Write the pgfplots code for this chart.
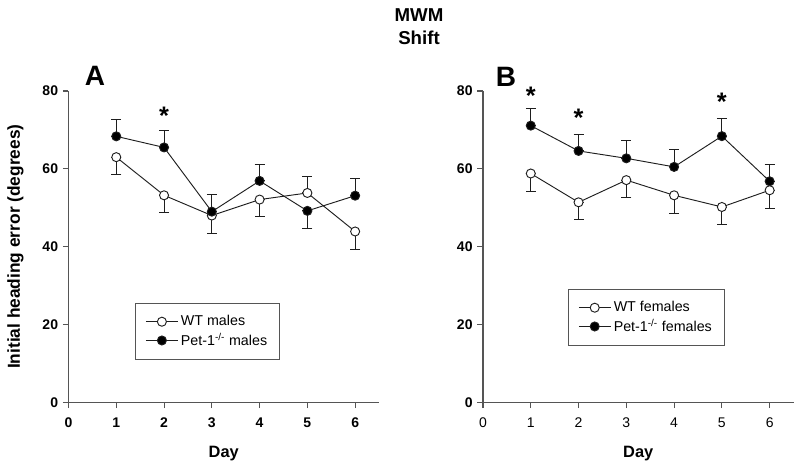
\documentclass[border=0pt]{standalone}
\usepackage{pgfplots}
\pgfplotsset{compat=1.18}
\usepackage{fontspec}
\setmainfont{Liberation Sans}
\definecolor{axgray}{RGB}{85,85,85}
\definecolor{dat}{RGB}{30,30,30}
\pgfplotsset{
  panel/.style={
    scale only axis,
    width=232.9pt, height=233.5pt,
    xmin=0, xmax=6.5, ymin=0, ymax=80,
    xtick={0,1,2,3,4,5,6}, ytick={0,20,40,60,80},
    axis x line=bottom, axis y line=left,
    axis line style={-, axgray, line width=0.8pt},
    tick align=outside, major tick length=4.3pt,
    tick style={axgray, line width=0.8pt},
    /pgf/number format/assume math mode=true,
    yticklabel style={font=\fontsize{10.5}{12}\bfseries\selectfont},
    xlabel={Day},
    xlabel style={font=\fontsize{12.3}{14}\bfseries\selectfont, at={(axis description cs:0.5,-0.166)}, anchor=center},
    clip=false,
    legend cell align=left,
    legend style={draw=axgray, line width=0.8pt, inner xsep=7.5pt, inner ysep=7pt, row sep=0pt,
      font=\fontsize{10.7}{12.5}\selectfont, anchor=north west},
    legend image code/.code={\draw[mark repeat=2,mark phase=2,#1] plot coordinates {(0cm,0cm) (0.42cm,0cm) (0.84cm,0cm)};},
    error bars/y dir=both, error bars/y explicit,
    error bars/error bar style={line width=0.7pt, dat},
    error bars/error mark options={rotate=90, mark size=3.75pt, line width=0.7pt, dat},
  },
  wt/.style={dat, line width=0.7pt, mark=*, mark size=3.4pt, mark options={fill=white, draw=dat, line width=0.7pt}},
  ko/.style={dat, line width=0.7pt, mark=*, mark size=3.4pt, mark options={fill=black, draw=dat, line width=0.7pt}},
}
\begin{document}
\begin{tikzpicture}
\useasboundingbox (0,0) rectangle (600pt,350.25pt);
\node[font=\fontsize{14}{16}\bfseries\selectfont] at (314.25pt,339pt) {MWM};
\node[font=\fontsize{14}{16}\bfseries\selectfont] at (314.25pt,321.75pt) {Shift};

\begin{axis}[panel, at={(51.375pt,48.5pt)}, anchor=south west,
  xticklabel style={font=\fontsize{10.5}{12}\bfseries\selectfont, yshift=-3.5pt},
  ylabel={Initial heading error (degrees)},
  ylabel style={font=\fontsize{13}{15}\bfseries\selectfont, at={(axis description cs:-0.1707,0.5)}, anchor=center},
  legend style={at={(axis description cs:0.214,0.319)}}]
\addplot+[wt] coordinates {
 (1,63.0) += (0,0) -= (0,4.4)
 (2,53.2) += (0,0) -= (0,4.4)
 (3,48.0) += (0,0) -= (0,4.5)
 (4,52.1) += (0,0) -= (0,4.4)
 (5,53.8) += (0,4.2) -= (0,0)
 (6,43.9) += (0,0) -= (0,4.5)
};
\addlegendentry{WT males}
\addplot+[ko] coordinates {
 (1,68.35) += (0,4.35) -= (0,0)
 (2,65.5) += (0,4.4) -= (0,0)
 (3,49.0) += (0,4.45) -= (0,0)
 (4,56.9) += (0,4.3) -= (0,0)
 (5,49.2) += (0,0) -= (0,4.4)
 (6,53.1) += (0,4.5) -= (0,0)
};
\addlegendentry{Pet-1\textsuperscript{-/-} males}
\node[font=\fontsize{19}{21}\bfseries\selectfont] at (axis cs:2,73.6) {*};
\node[font=\fontsize{21}{24}\bfseries\selectfont] at (axis description cs:0.085,1.048) {A};
\end{axis}

\begin{axis}[panel, at={(362.25pt,48.5pt)}, anchor=south west,
  xticklabel style={font=\fontsize{10.5}{12}\selectfont, yshift=-3.5pt},
  reverse legend,
  legend style={at={(axis description cs:0.273,0.364)}}]
\addplot+[ko] coordinates {
 (1,71.1) += (0,4.4) -= (0,0)
 (2,64.6) += (0,4.3) -= (0,0)
 (3,62.7) += (0,4.5) -= (0,0)
 (4,60.5) += (0,4.4) -= (0,0)
 (5,68.4) += (0,4.6) -= (0,0)
 (6,56.8) += (0,4.4) -= (0,0)
};
\addlegendentry{Pet-1\textsuperscript{-/-} females}
\addplot+[wt] coordinates {
 (1,58.8) += (0,0) -= (0,4.5)
 (2,51.4) += (0,0) -= (0,4.5)
 (3,57.1) += (0,0) -= (0,4.4)
 (4,53.2) += (0,0) -= (0,4.6)
 (5,50.2) += (0,0) -= (0,4.5)
 (6,54.5) += (0,0) -= (0,4.6)
};
\addlegendentry{WT females}
\node[font=\fontsize{19}{21}\bfseries\selectfont] at (axis cs:1,78.7) {*};
\node[font=\fontsize{19}{21}\bfseries\selectfont] at (axis cs:2,73.1) {*};
\node[font=\fontsize{19}{21}\bfseries\selectfont] at (axis cs:5,77.3) {*};
\node[font=\fontsize{21}{24}\bfseries\selectfont] at (axis description cs:0.074,1.045) {B};
\end{axis}
\end{tikzpicture}
\end{document}
